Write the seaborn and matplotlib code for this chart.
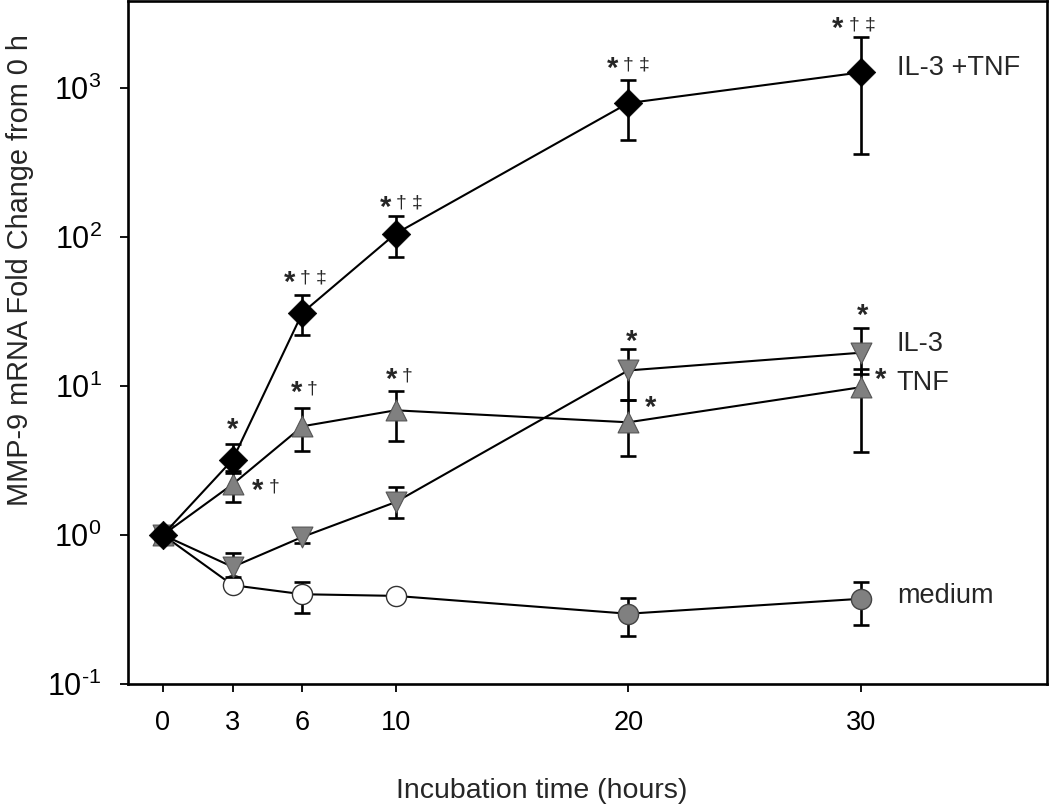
import matplotlib
matplotlib.use("Agg")
import matplotlib.pyplot as plt
import numpy as np
import pandas as pd
import seaborn as sns

# Data (fold change vs 0 h)
times = [0, 3, 6, 10, 20, 30]

combo_mean = [1.0, 3.2, 31, 105, 790, 1270]
combo_upper = [1.0, 4.1, 41, 138, 1130, 2180]
combo_lower = [1.0, 2.6, 22, 73, 450, 360]

il3_mean = [1.0, 0.61, 0.97, 1.66, 12.7, 16.7]
il3_upper = [1.0, 0.76, 1.10, 2.1, 17.8, 24.6]
il3_lower = [1.0, 0.52, 0.88, 1.3, 8.0, 12.0]

tnf_mean = [1.0, 2.19, 5.36, 6.86, 5.7, 9.8]
tnf_upper = [1.0, 2.7, 7.07, 9.2, 8.0, 13.0]
tnf_lower = [1.0, 1.66, 3.65, 4.3, 3.4, 3.6]

medium_mean = [1.0, 0.46, 0.40, 0.39, 0.296, 0.373]
medium_upper = [1.0, 0.46, 0.485, 0.39, 0.38, 0.485]
medium_lower = [1.0, 0.46, 0.30, 0.39, 0.21, 0.25]
medium_open = [True, True, True, True, False, False]

# significance marks: (series, time index, marks, dx px, dy px)
sig_marks = [
    ("combo", 1, "*", 0, 37),
    ("combo", 2, "*\u2020\u2021", -13, 37),
    ("combo", 3, "*\u2020\u2021", -10, 33),
    ("combo", 4, "*\u2020\u2021", -16, 41),
    ("combo", 5, "*\u2020\u2021", -23, 50),
    ("tnf", 1, "*\u2020", 25, 0),
    ("tnf", 2, "*\u2020", -6, 40),
    ("tnf", 3, "*\u2020", -4, 37),
    ("tnf", 4, "*", 22, 21),
    ("tnf", 5, "*", 20, 14),
    ("il3", 4, "*", 3, 36),
    ("il3", 5, "*", 2, 44),
]

series_labels = {"combo": "IL-3 +TNF", "il3": "IL-3", "tnf": "TNF", "medium": "medium"}
label_dy = {"combo": 4, "il3": 9, "tnf": 4, "medium": 3}

sns.set_style("ticks")
plt.rcParams["font.family"] = ["Liberation Sans", "DejaVu Sans"]
plt.rcParams["mathtext.fontset"] = "custom"
plt.rcParams["mathtext.rm"] = "Liberation Sans"
plt.rcParams["mathtext.default"] = "regular"

series = {
    "medium": (medium_mean, medium_lower, medium_upper),
    "il3": (il3_mean, il3_lower, il3_upper),
    "tnf": (tnf_mean, tnf_lower, tnf_upper),
    "combo": (combo_mean, combo_lower, combo_upper),
}

rows = []
for name, (m, lo, hi) in series.items():
    for t, v, l, h in zip(times, m, lo, hi):
        rows.append({"series": name, "time": t, "fold": v, "lower": l, "upper": h})
df = pd.DataFrame(rows)

PX = 0.72  # points per pixel at dpi 100

fig = plt.figure(figsize=(10.5, 8.06), dpi=100)
ax = fig.add_axes([0.1219, 0.1514, 0.8752, 0.8468])

styles = {
    "medium": dict(marker="o", s=14.5 ** 2, z=2),
    "il3": dict(marker="v", s=15 ** 2, z=3),
    "tnf": dict(marker="^", s=15 ** 2, z=4),
    "combo": dict(marker="D", s=14.5 ** 2, z=5),
}

for name in ["medium", "il3", "tnf", "combo"]:
    sub = df[df["series"] == name]
    st = styles[name]
    sns.lineplot(data=sub, x="time", y="fold", color="black", lw=1.5,
                 estimator=None, legend=False, ax=ax, zorder=st["z"] * 3)
    ax.errorbar(sub["time"], sub["fold"],
                yerr=[sub["fold"] - sub["lower"], sub["upper"] - sub["fold"]],
                fmt="none", ecolor="black", elinewidth=1.9, capsize=5.5,
                capthick=1.9, zorder=st["z"] * 3 + 1)
    if name == "medium":
        is_open = np.array(medium_open)
        sns.scatterplot(data=sub[is_open], x="time", y="fold", marker="o",
                        s=st["s"], color="white", edgecolor="#333333",
                        linewidth=1.0, ax=ax, zorder=st["z"] * 3 + 2)
        sns.scatterplot(data=sub[~is_open], x="time", y="fold", marker="o",
                        s=st["s"], color="#808080", edgecolor="#444444",
                        linewidth=1.0, ax=ax, zorder=st["z"] * 3 + 2)
    elif name == "combo":
        sns.scatterplot(data=sub, x="time", y="fold", marker="D", s=st["s"],
                        color="black", edgecolor="black", linewidth=0.5,
                        ax=ax, zorder=st["z"] * 3 + 2)
    else:
        sns.scatterplot(data=sub, x="time", y="fold", marker=st["marker"],
                        s=st["s"], color="#808080", edgecolor="#555555",
                        linewidth=0.8, ax=ax, zorder=st["z"] * 3 + 2)

# significance symbols: bold asterisk, then thin daggers
for name, i, marks, dx, dy in sig_marks:
    t = times[i]
    v = series[name][0][i]
    ax.annotate("*", xy=(t, v), xytext=(dx * PX, (dy - 15) * PX),
                textcoords="offset points", ha="center", va="baseline",
                fontsize=21, fontweight="bold", zorder=30)
    for k, ch in enumerate(marks[1:]):
        ax.annotate(ch, xy=(t, v), xytext=((dx + 16 * (k + 1)) * PX, (dy - 7) * PX),
                    textcoords="offset points", ha="center", va="baseline",
                    fontsize=14, zorder=30)

# series labels at the right end
for name, lab in series_labels.items():
    v = series[name][0][-1]
    ax.annotate(lab, xy=(times[-1], v), xytext=(36 * PX, label_dy[name] * PX),
                textcoords="offset points", ha="left", va="center", fontsize=19.5)

ax.set_yscale("log")
ax.set_ylim(0.1, 3800)
ax.set_xlim(-1.5, 38)
ax.set_xticks(times)
ax.set_xticklabels([str(t) for t in times])
ax.set_yticks([0.1, 1, 10, 100, 1000])
ax.set_yticklabels(["$10^{\u2010" + "1}$", "$10^{0}$", "$10^{1}$", "$10^{2}$", "$10^{3}$"])
ax.minorticks_off()
ax.tick_params(axis="both", direction="out", length=6, width=1.3, labelsize=19.5,
               color="black", labelcolor="black")
ax.tick_params(axis="y", labelsize=22)
ax.tick_params(axis="x", pad=13)
ax.tick_params(axis="y", pad=13)

for sp in ax.spines.values():
    sp.set_linewidth(1.9)
    sp.set_color("black")

ax.set_xlabel("Incubation time (hours)", fontsize=20.5)
ax.set_ylabel("MMP-9 mRNA Fold Change from 0 h", fontsize=20.8)
ax.xaxis.set_label_coords(0.45, -0.138)
ax.xaxis.label.set_va("top")
ax.yaxis.set_label_coords(-0.1025, 0.607)

fig.savefig("out.png", dpi=100, facecolor="white")
